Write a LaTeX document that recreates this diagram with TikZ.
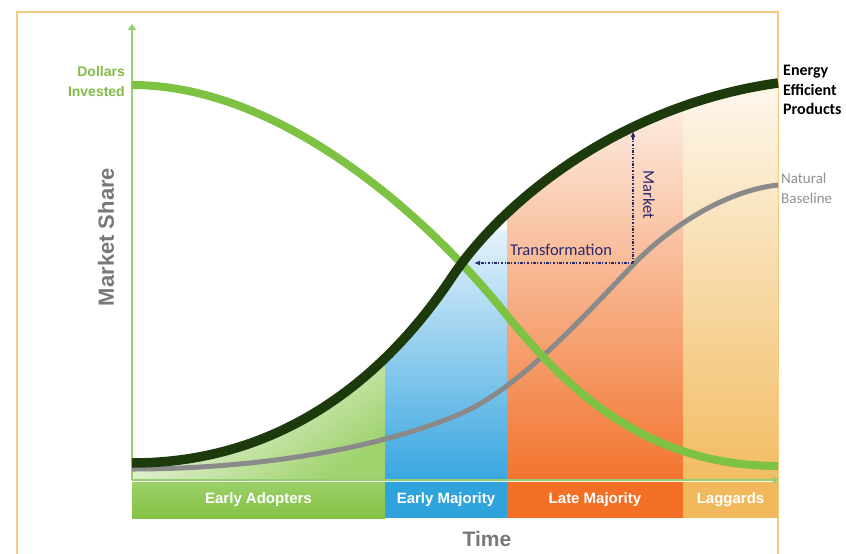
\documentclass[tikz,border=0pt]{standalone}
\usepackage{fontspec}
\setmainfont{Liberation Sans}
\newfontfamily\carlito{Carlito}
\usetikzlibrary{arrows.meta}
\definecolor{framec}{RGB}{242,202,128}
\definecolor{darkc}{RGB}{28,58,12}
\definecolor{lgreenc}{RGB}{125,194,67}
\definecolor{grayc}{RGB}{138,138,138}
\definecolor{axisc}{RGB}{150,205,112}
\definecolor{navyc}{RGB}{40,40,110}
\definecolor{dollarc}{RGB}{130,188,72}
\definecolor{labgray}{RGB}{120,120,120}
\definecolor{nbgray}{RGB}{145,145,145}
\definecolor{eaFill}{RGB}{160,210,110}
\definecolor{emTop}{RGB}{228,242,251}
\definecolor{emBot}{RGB}{56,166,224}
\definecolor{lmTop}{RGB}{253,238,228}
\definecolor{lmBot}{RGB}{242,116,46}
\definecolor{lgTop}{RGB}{254,248,238}
\definecolor{lgBot}{RGB}{242,188,98}
\definecolor{barEAtop}{RGB}{156,208,102}
\definecolor{barEAbot}{RGB}{132,194,70}
\definecolor{barEM}{RGB}{47,163,220}
\definecolor{barLM}{RGB}{243,111,37}
\definecolor{barLG}{RGB}{241,185,92}
\begin{document}
\begin{tikzpicture}[x=1pt,y=-1pt,
  bandbox/.style={minimum height=36pt, inner sep=0pt, text=white,
    font=\bfseries\fontsize{15}{18}\selectfont},
  axisline/.style={draw=axisc, line width=2.5pt, -{Triangle[width=8pt,length=6pt]}},
  navyarrow/.style={draw=navyc, line width=1.3pt, dash pattern=on 2.5pt off 1.5pt on 1pt off 1.5pt,
    -{Latex[length=6pt,width=5pt]}},
  navytext/.style={text=navyc, font=\carlito\fontsize{16.5}{18}\selectfont, inner sep=0pt},
  darkcurve/.style={draw=darkc, line width=9.5pt},
  lgreencurve/.style={draw=lgreenc, line width=8pt},
  graycurve/.style={draw=grayc, line width=5pt}
]
\useasboundingbox (0,0) rectangle (846,554);
\fill[white] (0,0) rectangle (846,554);

% frame
\draw[framec, line width=2pt] (17,560) -- (17,12) -- (778,12) -- (778,560);

% area under the energy efficient curve
\begin{scope}
\clip (132,463) .. controls (300,463) and (400,355) .. (452,277) .. controls (502,202) and (620,105) .. (778,83) -- (778,481) -- (132,481) -- cycle;
\shade[top color=white, bottom color=eaFill, shading angle=35] (132,355) rectangle (386,481);
\shade[top color=emTop, bottom color=emBot] (385,230) rectangle (508,481);
\shade[top color=lmTop, bottom color=lmBot] (507,100) rectangle (684,481);
\shade[top color=lgTop, bottom color=lgBot] (683,80) rectangle (778,481);
\end{scope}

% bands
\node[bandbox, minimum width=253pt, top color=barEAtop, bottom color=barEAbot] (ea) at (258.5,500) {Early Adopters};
\node[bandbox, minimum width=122pt, fill=barEM] (em) at (446,500) {Early Majority};
\node[bandbox, minimum width=176pt, fill=barLM] (lm) at (595,500) {Late Majority};
\node[bandbox, minimum width=95pt, fill=barLG] (lg) at (730.5,500) {Laggards};

% axes
\coordinate (origin) at (132,480);
\coordinate (ytop) at (132,24);
\coordinate (xend) at (779,480);
\draw[axisline] (origin) -- (ytop);
\draw[axisline] (origin) -- (xend);

% curves
\draw[graycurve] (132,469) .. controls (260,469) and (380,448) .. (460,414) .. controls (520,388) and (585,315) .. (633,265) .. controls (673,223) and (730,190) .. (778,185);
\draw[lgreencurve] (132,85) .. controls (290,85) and (440,232) .. (505,313) .. controls (570,394) and (650,466) .. (778,466);
\draw[darkcurve] (132,463) .. controls (300,463) and (400,355) .. (452,277) .. controls (502,202) and (620,105) .. (778,83);

% market transformation arrows
\coordinate (corner) at (633,263);
\coordinate (mtop) at (633,131);
\coordinate (tleft) at (474,263);
\draw[navyarrow] (corner) -- (mtop);
\draw[navyarrow] (corner) -- (tleft);
\node[navytext] (trans) at (561,250) {Transformation};
\node[navytext, rotate=-90] (mkt) at (649,195) {Market};

% labels
\node[anchor=east, align=right, inner sep=0pt, text=dollarc,
  font=\bfseries\fontsize{14}{20}\selectfont] (dollars) at (125,81) {Dollars\\Invested};
\node[anchor=west, align=left, inner sep=0pt, text=black,
  font=\carlito\bfseries\fontsize{16}{19.5}\selectfont] (eep) at (783,90) {Energy\\Efficient\\Products};
\node[anchor=west, align=left, inner sep=0pt, text=nbgray,
  font=\carlito\fontsize{15}{20}\selectfont] (nb) at (781,188) {Natural\\Baseline};
\node[rotate=90, text=labgray, inner sep=0pt,
  font=\bfseries\fontsize{22}{24}\selectfont] (ms) at (106,237) {Market Share};
\node[text=labgray, inner sep=0pt,
  font=\bfseries\fontsize{21}{24}\selectfont] (time) at (487,539) {Time};
\end{tikzpicture}
\end{document}
